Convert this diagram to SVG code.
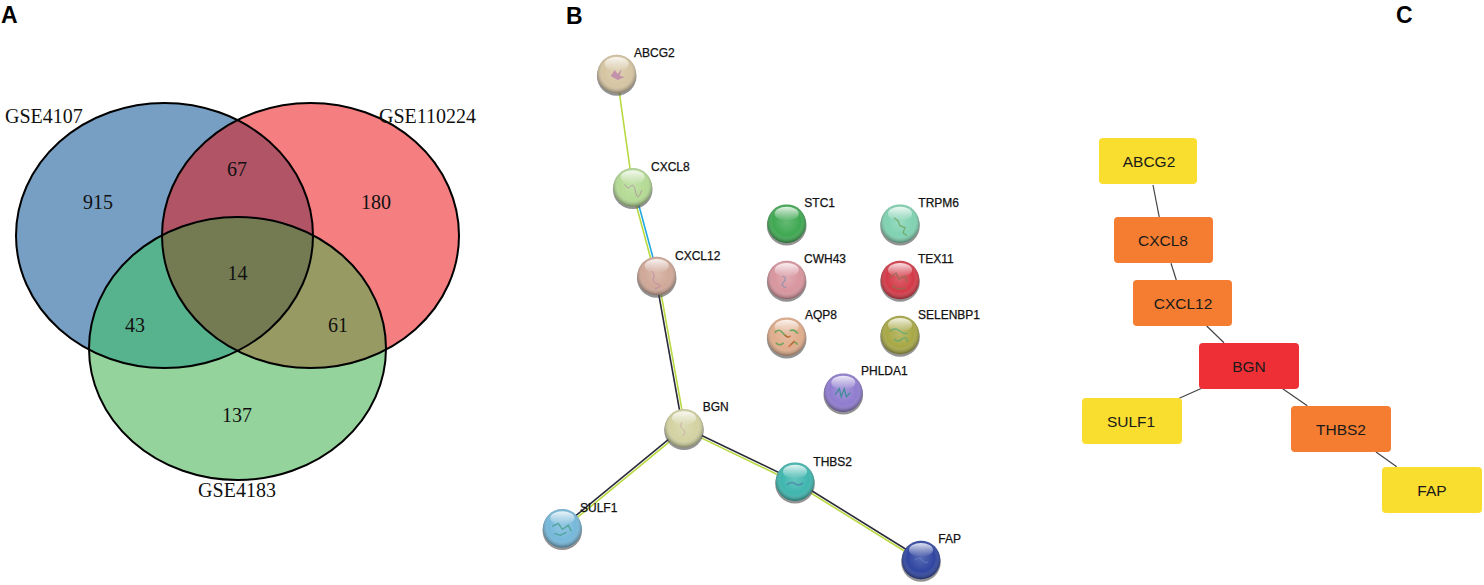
<svg xmlns="http://www.w3.org/2000/svg" width="1484" height="585" viewBox="0 0 1484 585">
<style>
.panel{font-family:"Liberation Sans",Arial,sans-serif;font-weight:bold;font-size:23px;fill:#000}
.vlab{font-family:"Liberation Serif","Times New Roman",serif;font-size:20px;fill:#111}
.vnum{font-family:"Liberation Serif","Times New Roman",serif;font-size:20px;fill:#111;text-anchor:middle}
.vout{fill:none;stroke:#000;stroke-width:2}
.slab{font-family:"Liberation Sans",Arial,sans-serif;font-size:12px;fill:#111;stroke:#111;stroke-width:0.25}
.e-y{stroke:#b8d940;stroke-width:1.6;fill:none}
.e-k{stroke:#2a2a3a;stroke-width:1.6;fill:none}
.e-c{stroke:#22a8e0;stroke-width:1.6;fill:none}
.shadow{fill:#4a4a4a;opacity:0.6}
.shine{fill:url(#shade)}
.hl{fill:url(#hlg)}
.cbox{stroke:none}
.ctext{font-family:"Liberation Sans",Arial,sans-serif;font-size:15.5px;fill:#1a1a1a;text-anchor:middle}
.cedge{stroke:#444;stroke-width:1.2;fill:none}
</style>
<defs>
<clipPath id="clipBlue"><ellipse cx="164.5" cy="235.5" rx="148.5" ry="132.5"/></clipPath>
<clipPath id="clipRed"><ellipse cx="310.5" cy="235.5" rx="148.5" ry="132.5"/></clipPath>
<radialGradient id="shade" cx="50%" cy="45%" r="55%">
<stop offset="0%" stop-color="#fff" stop-opacity="0.2"/>
<stop offset="65%" stop-color="#fff" stop-opacity="0"/>
<stop offset="100%" stop-color="#000" stop-opacity="0.4"/>
</radialGradient>
<linearGradient id="hlg" x1="0" y1="0" x2="0" y2="1">
<stop offset="0%" stop-color="#fff" stop-opacity="0.85"/>
<stop offset="100%" stop-color="#fff" stop-opacity="0"/>
</linearGradient>
</defs>
<rect width="1484" height="585" fill="#fff"/>

<!-- Panel letters -->
<text class="panel" x="1" y="23">A</text>
<text class="panel" x="566" y="24">B</text>
<text class="panel" x="1396" y="23">C</text>

<!-- Panel A: Venn -->
<g id="venn">
<g id="set-GSE4107"><ellipse cx="164.5" cy="235.5" rx="148.5" ry="132.5" fill="#779ec3"/></g>
<g id="set-GSE110224"><ellipse cx="310.5" cy="235.5" rx="148.5" ry="132.5" fill="#f47e80"/></g>
<g id="set-GSE4183"><ellipse cx="237.5" cy="348.5" rx="148.5" ry="131.5" fill="#94d39b"/></g>
<ellipse cx="310.5" cy="235.5" rx="148.5" ry="132.5" fill="#b05466" clip-path="url(#clipBlue)"/>
<ellipse cx="237.5" cy="348.5" rx="148.5" ry="131.5" fill="#57b38e" clip-path="url(#clipBlue)"/>
<ellipse cx="237.5" cy="348.5" rx="148.5" ry="131.5" fill="#979a63" clip-path="url(#clipRed)"/>
<g clip-path="url(#clipBlue)"><ellipse cx="237.5" cy="348.5" rx="148.5" ry="131.5" fill="#747b53" clip-path="url(#clipRed)"/></g>
<ellipse class="vout" cx="164.5" cy="235.5" rx="148.5" ry="132.5"/>
<ellipse class="vout" cx="310.5" cy="235.5" rx="148.5" ry="132.5"/>
<ellipse class="vout" cx="237.5" cy="348.5" rx="148.5" ry="131.5"/>
<text class="vlab" x="5" y="123">GSE4107</text>
<text class="vlab" x="379" y="123">GSE110224</text>
<text class="vlab" x="237" y="497" text-anchor="middle">GSE4183</text>
<text class="vnum" x="98" y="209">915</text>
<text class="vnum" x="237" y="176">67</text>
<text class="vnum" x="376" y="209">180</text>
<text class="vnum" x="237.5" y="280">14</text>
<text class="vnum" x="135" y="332">43</text>
<text class="vnum" x="338" y="332">61</text>
<text class="vnum" x="237" y="422">137</text>
</g>

<!-- Panel B: STRING network -->
<g id="string-edges">
<line class="e-y" x1="616.7" y1="74" x2="632.7" y2="187.3"/>
<line class="e-y" x1="631.5" y1="187.6" x2="655.5" y2="276.3"/>
<line class="e-c" x1="633.9" y1="187.0" x2="657.9" y2="275.7"/>
<line class="e-k" x1="655.5" y1="276.2" x2="682.8" y2="428.5"/>
<line class="e-y" x1="657.9" y1="275.8" x2="685.2" y2="428.1"/>
<line class="e-k" x1="683.2" y1="427.4" x2="561.5" y2="527.4"/>
<line class="e-y" x1="684.8" y1="429.2" x2="563.1" y2="529.2"/>
<line class="e-k" x1="684.5" y1="427.2" x2="795.5" y2="480.6"/>
<line class="e-y" x1="683.5" y1="429.4" x2="794.5" y2="482.8"/>
<line class="e-k" x1="795.6" y1="480.7" x2="921.6" y2="559"/>
<line class="e-y" x1="794.4" y1="482.7" x2="920.4" y2="561"/>
</g>

<g id="s-ABCG2" transform="translate(616.7,74)">
<circle class="shadow" cx="0" cy="2" r="19.8"/><circle r="19.3" fill="#d6c5a2"/><circle class="shine" r="19.3"/><ellipse class="hl" cx="0" cy="-10" rx="12" ry="7"/>
<path d="M-6,2 l4,-6 l3,4 l4,-5 l-2,7 l5,1 l-7,3 z" fill="#b878a8" opacity="0.7"/>
<text class="slab" x="17.3" y="-17.3">ABCG2</text></g>
<g id="s-CXCL8" transform="translate(632.7,187.3)">
<circle class="shadow" cx="0" cy="2" r="19.8"/><circle r="19.3" fill="#b4da94"/><circle class="shine" r="19.3"/><ellipse class="hl" cx="0" cy="-10" rx="12" ry="7"/>
<path d="M-8,-3 q3,6 6,2 t5,6 t6,-2" fill="none" stroke="#a878a0" stroke-width="1" opacity="0.6"/>
<text class="slab" x="18.3" y="-16.6">CXCL8</text></g>
<g id="s-CXCL12" transform="translate(656.7,276)">
<circle class="shadow" cx="0" cy="2" r="19.8"/><circle r="19.3" fill="#d0a898"/><circle class="shine" r="19.3"/><ellipse class="hl" cx="0" cy="-10" rx="12" ry="7"/>
<path d="M-5,-5 q4,3 2,7 t4,6 t-3,5" fill="none" stroke="#b878a8" stroke-width="1" opacity="0.6"/>
<text class="slab" x="18.3" y="-16">CXCL12</text></g>
<g id="s-STC1" transform="translate(786.7,223.7)">
<circle class="shadow" cx="0" cy="2" r="19.8"/><circle r="19.3" fill="#3fa852"/><circle class="shine" r="19.3"/><ellipse class="hl" cx="0" cy="-10" rx="12" ry="7"/>
<text class="slab" x="17.6" y="-16.4">STC1</text></g>
<g id="s-TRPM6" transform="translate(900,223.7)">
<circle class="shadow" cx="0" cy="2" r="19.8"/><circle r="19.3" fill="#80d2b2"/><circle class="shine" r="19.3"/><ellipse class="hl" cx="0" cy="-10" rx="12" ry="7"/>
<path d="M-6,-6 l4,3 l2,5 l5,2 l-2,5 l4,3" fill="none" stroke="#6a9a50" stroke-width="1.3" opacity="0.7"/>
<text class="slab" x="18.3" y="-16.4">TRPM6</text></g>
<g id="s-CWH43" transform="translate(786.7,280)">
<circle class="shadow" cx="0" cy="2" r="19.8"/><circle r="19.3" fill="#d8959e"/><circle class="shine" r="19.3"/><ellipse class="hl" cx="0" cy="-10" rx="12" ry="7"/>
<path d="M-4,-4 q5,2 1,6 t3,6" fill="none" stroke="#7a90b0" stroke-width="1.3" opacity="0.7"/>
<text class="slab" x="17.3" y="-16.7">CWH43</text></g>
<g id="s-TEX11" transform="translate(900,280)">
<circle class="shadow" cx="0" cy="2" r="19.8"/><circle r="19.3" fill="#d43a48"/><circle class="shine" r="19.3"/><ellipse class="hl" cx="0" cy="-10" rx="12" ry="7"/>
<path d="M-10,-3 l6,-4 l3,6 l6,-3 l2,6 M-8,6 l6,3 l8,-1" fill="none" stroke="#8a7050" stroke-width="1.5" opacity="0.7"/>
<text class="slab" x="18" y="-16.7">TEX11</text></g>
<g id="s-AQP8" transform="translate(786.7,336.7)">
<circle class="shadow" cx="0" cy="2" r="19.8"/><circle r="19.3" fill="#e0ad8c"/><circle class="shine" r="19.3"/><ellipse class="hl" cx="0" cy="-10" rx="12" ry="7"/>
<path d="M-12,-4 q4,-5 8,0 t6,4 M-11,6 q4,4 8,0 M3,-6 q5,-2 8,3 M4,8 q4,-5 7,0" fill="none" stroke="#50a050" stroke-width="1.6" opacity="0.8"/>
<path d="M-2,-2 q3,4 6,1 M2,10 q3,-3 6,-6" fill="none" stroke="#d06030" stroke-width="1.6" opacity="0.8"/>
<text class="slab" x="18.3" y="-17.7">AQP8</text></g>
<g id="s-SELENBP1" transform="translate(900,335)">
<circle class="shadow" cx="0" cy="2" r="19.8"/><circle r="19.3" fill="#a8a846"/><circle class="shine" r="19.3"/><ellipse class="hl" cx="0" cy="-10" rx="12" ry="7"/>
<path d="M-10,-4 q5,-4 10,0 t8,2 M-6,4 q4,4 8,0 t6,3" fill="none" stroke="#50a878" stroke-width="1.3" opacity="0.7"/>
<text class="slab" x="18" y="-16">SELENBP1</text></g>
<g id="s-PHLDA1" transform="translate(843.3,392.7)">
<circle class="shadow" cx="0" cy="2" r="19.8"/><circle r="19.3" fill="#8f7ccf"/><circle class="shine" r="19.3"/><ellipse class="hl" cx="0" cy="-10" rx="12" ry="7"/>
<path d="M-8,2 l4,-6 l2,8 l3,-8 l2,8 l4,-4" fill="none" stroke="#2a8a8a" stroke-width="1.3" opacity="0.8"/>
<text class="slab" x="17.7" y="-17.4">PHLDA1</text></g>
<g id="s-BGN" transform="translate(684,428.3)">
<circle class="shadow" cx="0" cy="2" r="19.8"/><circle r="19.3" fill="#d2d2a2"/><circle class="shine" r="19.3"/><ellipse class="hl" cx="0" cy="-10" rx="12" ry="7"/>
<path d="M-2,-6 q-3,4 1,7 t-1,7" fill="none" stroke="#c898a0" stroke-width="1" opacity="0.6"/>
<text class="slab" x="18.7" y="-17.3">BGN</text></g>
<g id="s-THBS2" transform="translate(795,481.7)">
<circle class="shadow" cx="0" cy="2" r="19.8"/><circle r="19.3" fill="#3eb6ae"/><circle class="shine" r="19.3"/><ellipse class="hl" cx="0" cy="-10" rx="12" ry="7"/>
<path d="M-8,3 q4,-4 8,-1 t8,-1" fill="none" stroke="#4a70a0" stroke-width="1.5" opacity="0.6"/>
<text class="slab" x="18.3" y="-16">THBS2</text></g>
<g id="s-SULF1" transform="translate(562.3,528.3)">
<circle class="shadow" cx="0" cy="2" r="19.8"/><circle r="19.3" fill="#76b8da"/><circle class="shine" r="19.3"/><ellipse class="hl" cx="0" cy="-10" rx="12" ry="7"/>
<path d="M-10,-2 l6,-3 l4,6 l6,-4 l3,6 M-8,5 l6,2 l6,-3" fill="none" stroke="#3a9a80" stroke-width="1.4" opacity="0.7"/>
<text class="slab" x="17.7" y="-16.6">SULF1</text></g>
<g id="s-FAP" transform="translate(921,560)">
<circle class="shadow" cx="0" cy="2" r="19.8"/><circle r="19.3" fill="#2f45a0"/><circle class="shine" r="19.3"/><ellipse class="hl" cx="0" cy="-10" rx="12" ry="7"/>
<path d="M-6,0 q4,-4 7,0 t6,2" fill="none" stroke="#6a80c8" stroke-width="1.2" opacity="0.7"/>
<text class="slab" x="17.3" y="-17.3">FAP</text></g>

<!-- Panel C: hub network -->
<g id="hub-edges">
<line class="cedge" x1="1153" y1="185" x2="1159.3" y2="217.3"/>
<line class="cedge" x1="1171" y1="263.3" x2="1176.3" y2="280"/>
<line class="cedge" x1="1206.7" y1="326" x2="1224" y2="342.7"/>
<line class="cedge" x1="1201.7" y1="388.3" x2="1179.3" y2="398.3"/>
<line class="cedge" x1="1282.7" y1="388.7" x2="1307.3" y2="405.7"/>
<line class="cedge" x1="1376" y1="452" x2="1396.7" y2="466.7"/>
</g>
<g id="c-ABCG2"><rect class="cbox" x="1099" y="138" width="98" height="46" rx="4" fill="#f9dd2f"/><text class="ctext" x="1149" y="166.5">ABCG2</text></g>
<g id="c-CXCL8"><rect class="cbox" x="1114" y="217" width="99" height="46" rx="4" fill="#f47d31"/><text class="ctext" x="1163" y="245.5">CXCL8</text></g>
<g id="c-CXCL12"><rect class="cbox" x="1133" y="280" width="99" height="46" rx="4" fill="#f47d31"/><text class="ctext" x="1183" y="308.5">CXCL12</text></g>
<g id="c-BGN"><rect class="cbox" x="1199" y="343" width="100" height="46" rx="4" fill="#ee3036"/><text class="ctext" x="1249" y="371.5">BGN</text></g>
<g id="c-SULF1"><rect class="cbox" x="1082" y="398" width="100" height="46" rx="4" fill="#f9dd2f"/><text class="ctext" x="1131" y="426.5">SULF1</text></g>
<g id="c-THBS2"><rect class="cbox" x="1291" y="406" width="100" height="46" rx="4" fill="#f47d31"/><text class="ctext" x="1341" y="434.5">THBS2</text></g>
<g id="c-FAP"><rect class="cbox" x="1382" y="467" width="100" height="46" rx="4" fill="#f9dd2f"/><text class="ctext" x="1432" y="495.5">FAP</text></g>
</svg>
